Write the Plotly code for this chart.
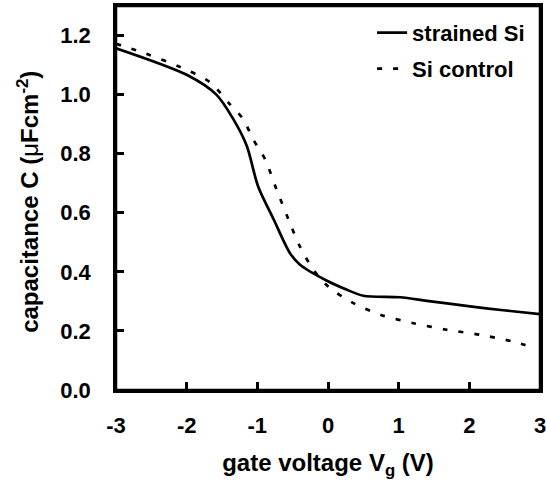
import plotly.graph_objects as go

# strained Si (solid)
x_strained = [-3.0, -2.0, -1.58, -1.34, -1.15, -0.99, -0.77, -0.54, -0.40, 0.0, 0.26, 0.5, 1.02, 1.40, 2.01, 2.48, 3.0]
c_strained = [1.157, 1.067, 1.0, 0.917, 0.827, 0.69, 0.578, 0.464, 0.425, 0.368, 0.34, 0.319, 0.314, 0.302, 0.283, 0.27, 0.257]

# Si control (dotted)
x_control = [-3.0, -2.57, -2.09, -1.67, -1.39, -1.2, -1.06, -0.89, -0.73, -0.56, -0.40, -0.21, 0.0, 0.36, 0.74, 1.21, 1.68, 2.15, 2.62, 2.86]
c_control = [1.172, 1.138, 1.093, 1.042, 0.968, 0.917, 0.849, 0.781, 0.68, 0.578, 0.487, 0.408, 0.351, 0.294, 0.255, 0.226, 0.204, 0.187, 0.164, 0.147]

x_ticks = [-3, -2, -1, 0, 1, 2, 3]
y_ticks = [0.0, 0.2, 0.4, 0.6, 0.8, 1.0, 1.2]

FONT = "Liberation Sans, Arial, sans-serif"

fig = go.Figure()
fig.add_trace(go.Scatter(x=x_strained, y=c_strained, mode="lines", name="<b>strained Si</b>",
                         legend="legend",
                         line=dict(color="black", width=2.7, shape="spline", smoothing=0.8)))
fig.add_trace(go.Scatter(x=x_control, y=c_control, mode="lines", name="<b>Si control</b>",
                         legend="legend2",
                         line=dict(color="black", width=2.7, dash="5px,11px", shape="spline", smoothing=0.8)))

leg_common = dict(xanchor="left", yanchor="top", bgcolor="rgba(0,0,0,0)",
                  font=dict(size=22, family=FONT), itemwidth=30, tracegroupgap=0)

fig.update_layout(
    width=546, height=480,
    margin=dict(l=116, r=6, t=6, b=90, autoexpand=False),
    plot_bgcolor="white", paper_bgcolor="white",
    font=dict(family=FONT, color="black", size=22),
    showlegend=True,
    legend=dict(x=0.604, y=0.985, **leg_common),
    legend2=dict(x=0.604, y=0.891, **leg_common),
    xaxis=dict(range=[-3, 3], tickvals=x_ticks, ticktext=[f"<b>{v}</b>" for v in x_ticks],
               ticks="inside", ticklen=8, tickwidth=2.5, tickcolor="black",
               showline=True, linecolor="black", linewidth=2.5, mirror=True,
               showgrid=False, zeroline=False, ticklabelstandoff=14, automargin=True,
               ticklabeloverflow="allow",
               title=dict(text="<b>gate voltage V<sub>g</sub> (V)</b>", font=dict(size=24), standoff=19)),
    yaxis=dict(range=[0, 1.3], tickvals=y_ticks, ticktext=[f"<b>{v:.1f}</b>" for v in y_ticks],
               ticks="inside", ticklen=8, tickwidth=2.5, tickcolor="black",
               showline=True, linecolor="black", linewidth=2.5, mirror=True,
               showgrid=False, zeroline=False, ticklabelstandoff=18, automargin=True,
               ticklabeloverflow="allow"),
    shapes=[dict(type="rect", xref="paper", yref="paper", x0=0, x1=1, y0=0, y1=1,
                 line=dict(color="black", width=2.5), fillcolor="rgba(0,0,0,0)", layer="above")],
    annotations=[dict(text="<b>capacitance C (</b>μ<b>Fcm<sup>-2</sup>)</b>", textangle=-90,
                      xref="paper", yref="paper", x=-0.2075, y=0.49, xanchor="center", yanchor="middle",
                      showarrow=False, font=dict(size=24, family=FONT, color="black"))],
)

fig.write_html("out.html", config={"displayModeBar": False},
               post_script="document.body.style.margin='0'; document.body.style.overflow='hidden';")
